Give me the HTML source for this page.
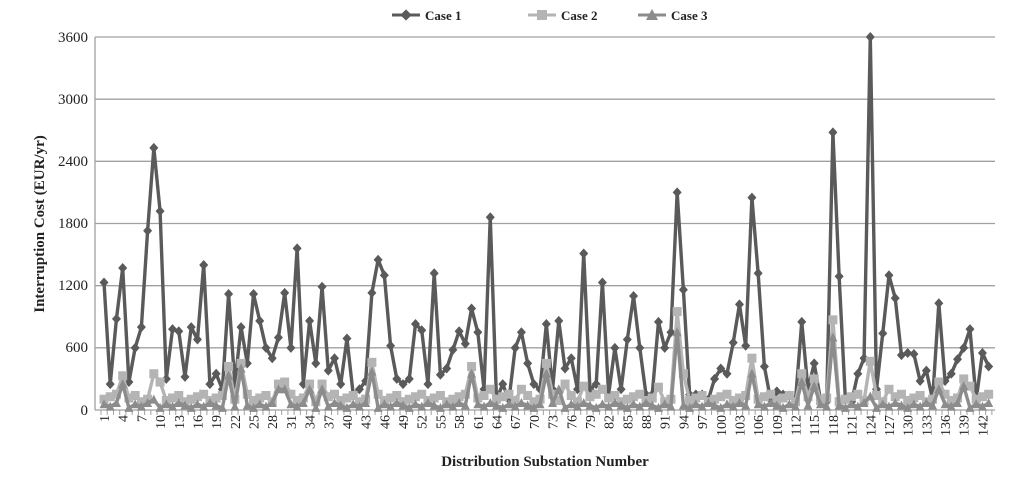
<!DOCTYPE html>
<html><head><meta charset="utf-8"><style>
html,body{margin:0;padding:0;background:#fff;}
svg{display:block;font-family:"Liberation Serif",serif;}
</style></head><body>
<svg width="1023" height="481" viewBox="0 0 1023 481" xmlns="http://www.w3.org/2000/svg">
<g stroke="#a0a0a0" stroke-width="1.3">
<line x1="95" y1="37" x2="995" y2="37"/><line x1="95" y1="99.2" x2="995" y2="99.2"/>
<line x1="95" y1="161.3" x2="995" y2="161.3"/><line x1="95" y1="223.5" x2="995" y2="223.5"/>
<line x1="95" y1="285.7" x2="995" y2="285.7"/><line x1="95" y1="347.8" x2="995" y2="347.8"/>
<line x1="95" y1="410" x2="995" y2="410"/><line x1="95" y1="37" x2="95" y2="410"/>
</g>
<g id="ticks" stroke="#a0a0a0" stroke-width="1"></g>
<g font-size="15" text-anchor="end" fill="#222">
<text x="88" y="42">3600</text><text x="88" y="104">3000</text><text x="88" y="166">2400</text>
<text x="88" y="228">1800</text><text x="88" y="290">1200</text><text x="88" y="352">600</text><text x="88" y="415">0</text>
</g>
<text transform="translate(44,224) rotate(-90)" text-anchor="middle" font-size="15" font-weight="bold" fill="#222">Interruption Cost (EUR/yr)</text>
<text x="545" y="466" text-anchor="middle" font-size="15" font-weight="bold" fill="#222">Distribution Substation Number</text>
<g font-size="14" fill="#222" text-anchor="end">
<text transform="translate(109,415) rotate(-90)">1</text>
<text transform="translate(127.7,415) rotate(-90)">4</text>
<text transform="translate(146.4,415) rotate(-90)">7</text>
<text transform="translate(165.1,415) rotate(-90)">10</text>
<text transform="translate(183.8,415) rotate(-90)">13</text>
<text transform="translate(202.5,415) rotate(-90)">16</text>
<text transform="translate(221.1,415) rotate(-90)">19</text>
<text transform="translate(239.8,415) rotate(-90)">22</text>
<text transform="translate(258.5,415) rotate(-90)">25</text>
<text transform="translate(277.2,415) rotate(-90)">28</text>
<text transform="translate(295.9,415) rotate(-90)">31</text>
<text transform="translate(314.6,415) rotate(-90)">34</text>
<text transform="translate(333.3,415) rotate(-90)">37</text>
<text transform="translate(352,415) rotate(-90)">40</text>
<text transform="translate(370.7,415) rotate(-90)">43</text>
<text transform="translate(389.4,415) rotate(-90)">46</text>
<text transform="translate(408,415) rotate(-90)">49</text>
<text transform="translate(426.7,415) rotate(-90)">52</text>
<text transform="translate(445.4,415) rotate(-90)">55</text>
<text transform="translate(464.1,415) rotate(-90)">58</text>
<text transform="translate(482.8,415) rotate(-90)">61</text>
<text transform="translate(501.5,415) rotate(-90)">64</text>
<text transform="translate(520.2,415) rotate(-90)">67</text>
<text transform="translate(538.9,415) rotate(-90)">70</text>
<text transform="translate(557.6,415) rotate(-90)">73</text>
<text transform="translate(576.3,415) rotate(-90)">76</text>
<text transform="translate(594.9,415) rotate(-90)">79</text>
<text transform="translate(613.6,415) rotate(-90)">82</text>
<text transform="translate(632.3,415) rotate(-90)">85</text>
<text transform="translate(651,415) rotate(-90)">88</text>
<text transform="translate(669.7,415) rotate(-90)">91</text>
<text transform="translate(688.4,415) rotate(-90)">94</text>
<text transform="translate(707.1,415) rotate(-90)">97</text>
<text transform="translate(725.8,415) rotate(-90)">100</text>
<text transform="translate(744.5,415) rotate(-90)">103</text>
<text transform="translate(763.2,415) rotate(-90)">106</text>
<text transform="translate(781.8,415) rotate(-90)">109</text>
<text transform="translate(800.5,415) rotate(-90)">112</text>
<text transform="translate(819.2,415) rotate(-90)">115</text>
<text transform="translate(837.9,415) rotate(-90)">118</text>
<text transform="translate(856.6,415) rotate(-90)">121</text>
<text transform="translate(875.3,415) rotate(-90)">124</text>
<text transform="translate(894,415) rotate(-90)">127</text>
<text transform="translate(912.7,415) rotate(-90)">130</text>
<text transform="translate(931.4,415) rotate(-90)">133</text>
<text transform="translate(950.1,415) rotate(-90)">136</text>
<text transform="translate(968.7,415) rotate(-90)">139</text>
<text transform="translate(987.4,415) rotate(-90)">142</text>
</g>
<g id="series"></g>
<g font-size="13" font-weight="bold" fill="#222">
<line x1="392" y1="15" x2="420" y2="15" stroke="#5a5a5a" stroke-width="3"/>
<rect x="402" y="11" width="8" height="8" fill="#5a5a5a" transform="rotate(45 406 15)"/>
<text x="425" y="20">Case 1</text>
<line x1="528" y1="15" x2="556" y2="15" stroke="#b4b4b4" stroke-width="3"/>
<rect x="537" y="10" width="10" height="10" fill="#b4b4b4"/>
<text x="561" y="20">Case 2</text>
<line x1="638" y1="15" x2="666" y2="15" stroke="#8c8c8c" stroke-width="3"/>
<polygon points="652,9 658,20 646,20" fill="#8c8c8c"/>
<text x="671" y="20">Case 3</text>
</g>
</svg>
<script>
var c1=[1230,250,880,1370,270,600,800,1730,2530,1920,300,780,760,320,800,680,1400,250,350,200,1120,250,800,450,1120,860,600,500,700,1130,600,1560,250,860,450,1190,380,500,250,690,150,200,280,1130,1450,1300,620,300,250,300,830,770,250,1320,340,400,580,760,640,980,750,200,1860,100,250,100,600,750,450,250,200,830,200,860,400,500,200,1510,200,250,1230,150,600,200,680,1100,600,150,150,850,600,750,2100,1160,150,150,150,100,300,400,350,650,1020,620,2050,1320,420,100,180,150,140,100,850,200,450,100,80,2680,1290,100,80,350,500,3600,200,740,1300,1080,530,550,540,280,380,100,1030,280,350,490,600,780,100,550,420];
var n=c1.length,c2=[],c3=[];
var p2={4:330,9:350,10:270,21:420,23:450,29:250,30:270,34:250,36:250,44:460,60:420,63:200,68:200,72:450,75:250,78:230,81:200,90:220,93:950,94:350,105:500,113:350,115:300,118:870,124:470,127:200,135:270,139:300,140:230};
var p3={4:250,9:100,21:330,23:400,29:200,30:200,34:200,36:200,44:370,60:350,72:350,74:200,93:750,105:350,113:270,115:230,118:700,124:130,135:200,139:230};
for(var i=1;i<=n;i++){c2.push(p2[i]||(80+((i*37)%7)*12));c3.push(p3[i]||(20+((i*53)%5)*12));}
function X(i){return 104+i*6.23;}
function Y(v){return 410-v*0.10361;}
var th='';
for(var k=0;k<=n;k++){var tx=101+k*6.23;th+='<line x1="'+tx+'" y1="410" x2="'+tx+'" y2="415"/>';}
document.getElementById('ticks').innerHTML=th;
var h='';
function draw(d,col,type){
var pts=d.map(function(v,i){return X(i)+','+Y(v);}).join(' ');
h+='<polyline points="'+pts+'" fill="none" stroke="'+col+'" stroke-width="3.4" stroke-linejoin="round"/>';
d.forEach(function(v,i){var x=X(i),y=Y(v);
if(type==1)h+='<polygon points="'+x+','+(y-5)+' '+(x+4.5)+','+y+' '+x+','+(y+5)+' '+(x-4.5)+','+y+'" fill="'+col+'"/>';
else if(type==2)h+='<rect x="'+(x-4.5)+'" y="'+(y-4.5)+'" width="9" height="9" fill="'+col+'"/>';
else h+='<polygon points="'+x+','+(y-5)+' '+(x+4.5)+','+(y+4)+' '+(x-4.5)+','+(y+4)+'" fill="'+col+'"/>';
});
}
draw(c1,'#5a5a5a',1);
draw(c2,'#b4b4b4',2);
draw(c3,'#8c8c8c',3);
document.getElementById('series').innerHTML=h;
</script>
</body></html>
